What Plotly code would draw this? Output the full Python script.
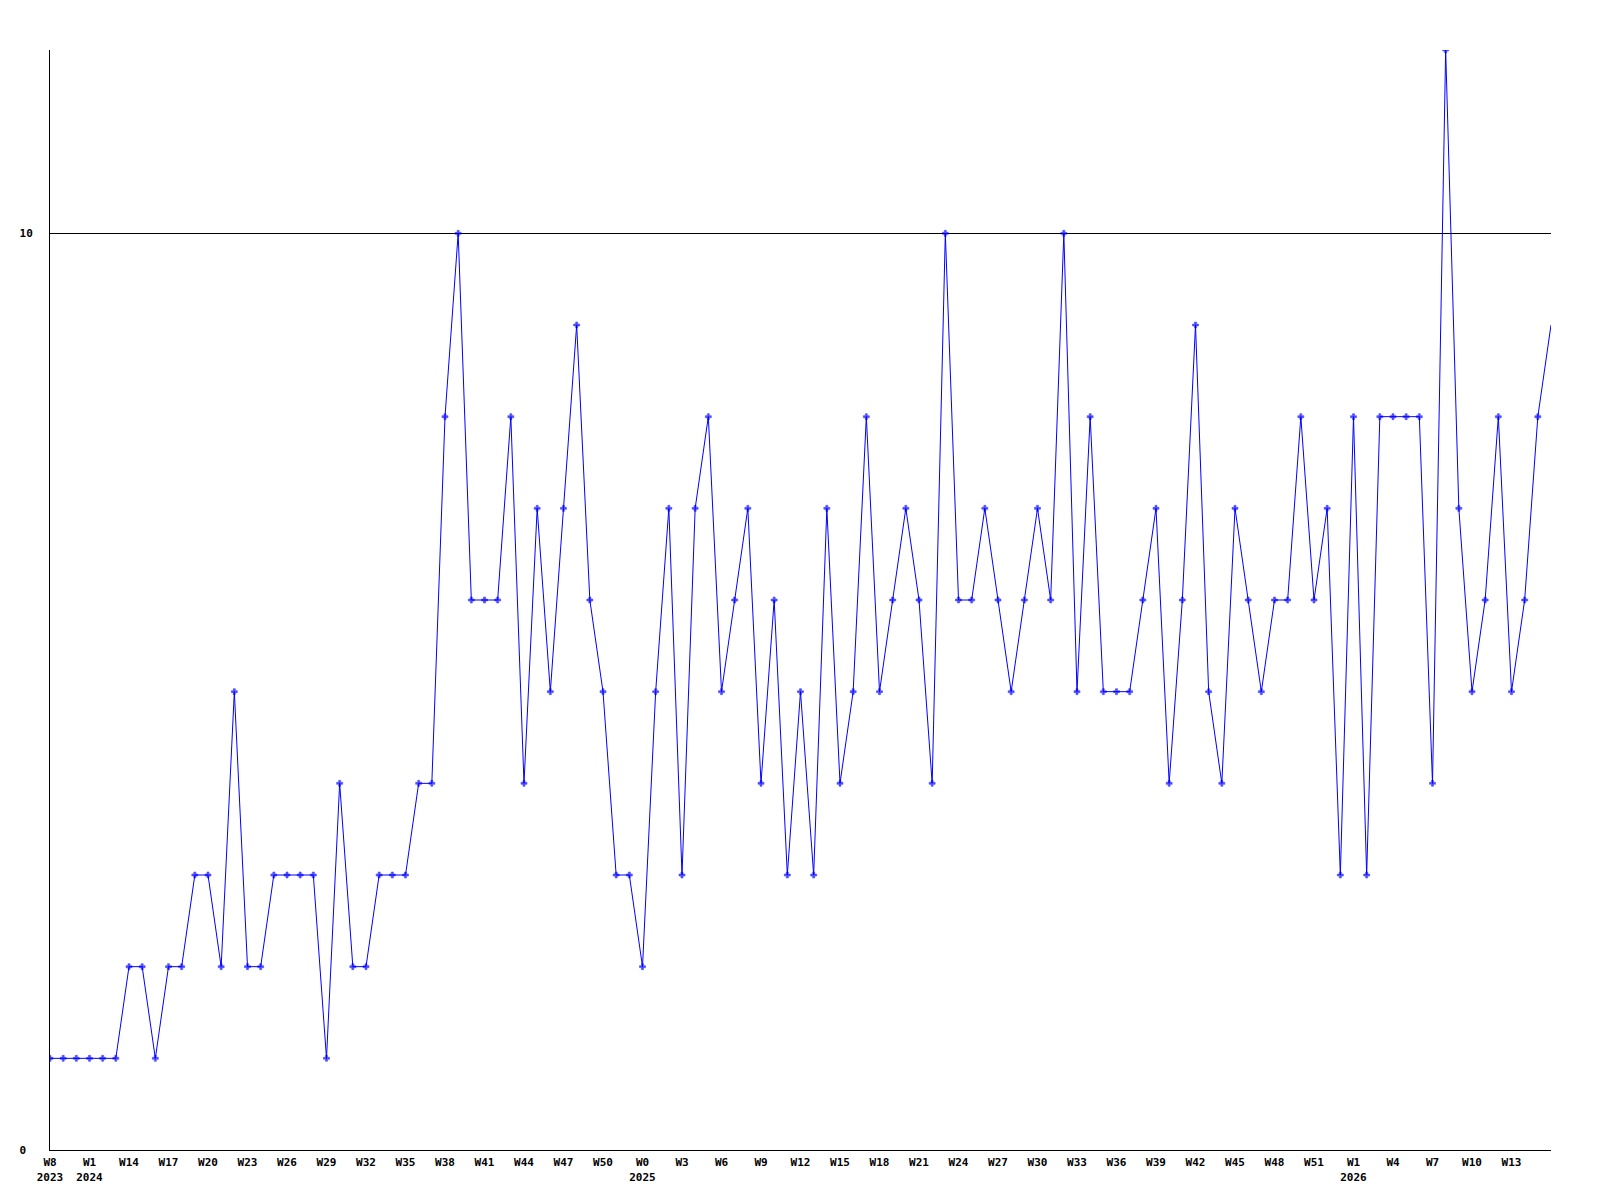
import plotly.graph_objects as go

# weekly counts, one value per week
values = [
    1, 1, 1, 1, 1, 1, 2, 2, 1, 2, 2, 3, 3, 2, 5, 2, 2, 3, 3, 3,
    3, 1, 4, 2, 2, 3, 3, 3, 4, 4, 8, 10, 6, 6, 6, 8, 4, 7, 5, 7,
    9, 6, 5, 3, 3, 2, 5, 7, 3, 7, 8, 5, 6, 7, 4, 6, 3, 5, 3, 7,
    4, 5, 8, 5, 6, 7, 6, 4, 10, 6, 6, 7, 6, 5, 6, 7, 6, 10, 5, 8,
    5, 5, 5, 6, 7, 4, 6, 9, 5, 4, 7, 6, 5, 6, 6, 8, 6, 7, 3, 8,
    3, 8, 8, 8, 8, 4, 12, 7, 5, 6, 8, 5, 6, 8, 9,
]

week_labels = [
    "W8", "W1", "W14", "W17", "W20", "W23", "W26", "W29", "W32", "W35",
    "W38", "W41", "W44", "W47", "W50", "W0", "W3", "W6", "W9", "W12",
    "W15", "W18", "W21", "W24", "W27", "W30", "W33", "W36", "W39", "W42",
    "W45", "W48", "W51", "W1", "W4", "W7", "W10", "W13",
]
# year shown under the label at these label positions
year_labels = {0: "2023", 1: "2024", 15: "2025", 33: "2026"}

y_ticks = [0, 10]
y_tick_labels = ["0\u00a0", "10"]

weeks = list(range(len(values)))
tick_vals = weeks[::3][:len(week_labels)]
tick_text = []
for i, w in enumerate(week_labels):
    if i in year_labels:
        tick_text.append(w + "<br>" + year_labels[i])
    else:
        tick_text.append(w)

marker_sizes = [5] * (len(values) - 1) + [0]

font = dict(family="DejaVu Sans Mono", size=11, color="black", weight="bold")

fig = go.Figure()
fig.add_trace(go.Scatter(
    x=weeks, y=values,
    mode="lines+markers",
    line=dict(color="#0000ff", width=1),
    marker=dict(symbol="cross", size=marker_sizes, color="#0000ff",
                line=dict(color="#0000ff", width=0.6)),
    showlegend=False,
))

fig.update_layout(
    width=1600, height=1200,
    paper_bgcolor="white", plot_bgcolor="white",
    margin=dict(l=42, r=57, t=42, b=58, pad=0),
    font=font,
)
fig.update_xaxes(
    range=[0, len(values) - 1],
    tickmode="array", tickvals=tick_vals, ticktext=tick_text,
    tickfont=font, tickangle=0, ticklabelstandoff=2,
    showline=True, linecolor="black", linewidth=1,
    showgrid=False, zeroline=False, ticks="",
)
fig.update_yaxes(
    range=[0, 12],
    tickmode="array", tickvals=y_ticks, ticktext=y_tick_labels,
    tickfont=font, ticklabelstandoff=14,
    showline=True, linecolor="black", linewidth=1,
    showgrid=True, gridcolor="black", gridwidth=1,
    zeroline=False, ticks="",
)

fig.write_html("out.html")
